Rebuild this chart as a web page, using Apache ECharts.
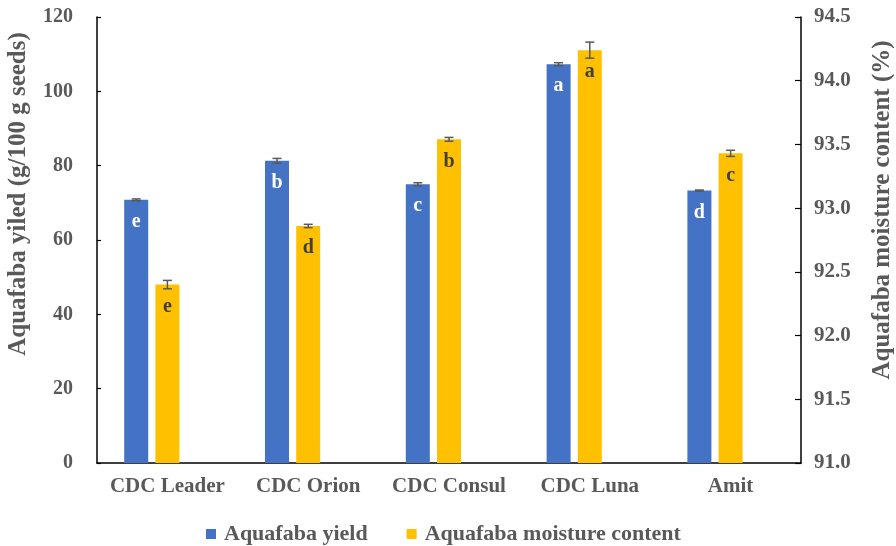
<!DOCTYPE html>
<html>
<head>
<meta charset="utf-8">
<script src="https://cdn.jsdelivr.net/npm/echarts@6/dist/echarts.min.js"></script>
<style>
  html, body { margin: 0; padding: 0; background: #fff; }
  #chart { width: 896px; height: 546px; }
</style>
</head>
<body>
<div id="chart"></div>
<script>
// Cultivars
var categories = ['CDC Leader', 'CDC Orion', 'CDC Consul', 'CDC Luna', 'Amit'];

// Aquafaba yield (g/100 g seeds) with standard deviation and letter groups
var yieldValues = [70.8, 81.3, 75.0, 107.3, 73.3];
var yieldErrors = [0.25, 0.65, 0.4, 0.4, 0.15];
var yieldLetters = ['e', 'b', 'c', 'a', 'd'];

// Aquafaba moisture content (%) with standard deviation and letter groups
var moistureValues = [92.40, 92.86, 93.54, 94.24, 93.43];
var moistureErrors = [0.033, 0.013, 0.015, 0.063, 0.024];
var moistureLetters = ['e', 'd', 'b', 'a', 'c'];

// Axis ticks
var leftTicks = { min: 0, max: 120, interval: 20 };
var rightTicks = { min: 91.0, max: 94.5, interval: 0.5 };

var FONT = '"Liberation Serif", "Times New Roman", serif';
var GRAY = '#595959';
var BLUE = '#4472C4';
var GOLD = '#FFC000';
var BAR_W = 24;
var BAR_GAP = 0.3; // fraction of bar width
var SLOT_COUNT = 3;

// horizontal offset of bar slot i from the category centre
function slotOffset(i) {
  var step = BAR_W * (1 + BAR_GAP);
  return (i - (SLOT_COUNT - 1) / 2) * step;
}

function errorBarSeries(values, errors, axisIndex, slot) {
  return {
    type: 'custom',
    yAxisIndex: axisIndex,
    z: 5,
    silent: true,
    data: values.map(function (v, i) { return [i, v - errors[i], v + errors[i]]; }),
    renderItem: function (params, api) {
      var idx = api.value(0);
      var lo = api.coord([idx, api.value(1)]);
      var hi = api.coord([idx, api.value(2)]);
      var x = lo[0] + slotOffset(slot);
      var cap = 4.5;
      var style = { stroke: GRAY, lineWidth: 1.5 };
      return {
        type: 'group',
        children: [
          { type: 'line', shape: { x1: x, y1: lo[1], x2: x, y2: hi[1] }, style: style },
          { type: 'line', shape: { x1: x - cap, y1: lo[1], x2: x + cap, y2: lo[1] }, style: style },
          { type: 'line', shape: { x1: x - cap, y1: hi[1], x2: x + cap, y2: hi[1] }, style: style }
        ]
      };
    }
  };
}

var chart = echarts.init(document.getElementById('chart'), null, { renderer: 'canvas' });

var option = {
  animation: false,
  textStyle: { fontFamily: FONT },
  grid: { left: 97, right: 95, top: 17, bottom: 83, containLabel: false },
  legend: {
    data: ['Aquafaba yield', 'Aquafaba moisture content'],
    left: 201,
    top: 518,
    icon: 'rect',
    itemWidth: 10,
    itemHeight: 10,
    itemGap: 39,
    textStyle: { fontFamily: FONT, fontSize: 22, fontWeight: 'bold', color: GRAY, padding: [0, 0, 0, 3] }
  },
  xAxis: {
    type: 'category',
    data: categories,
    axisLine: { lineStyle: { color: '#000', width: 1.5 } },
    axisTick: { show: false },
    axisLabel: {
      interval: 0, hideOverlap: false,
      fontFamily: FONT, fontSize: 21, fontWeight: 'bold', color: GRAY, margin: 13
    }
  },
  yAxis: [
    {
      type: 'value',
      min: leftTicks.min, max: leftTicks.max, interval: leftTicks.interval,
      axisLine: { show: true, lineStyle: { color: '#000', width: 1.5 } },
      axisTick: { show: true, inside: true, length: 4, lineStyle: { color: '#000', width: 1.2 } },
      splitLine: { show: false },
      axisLabel: { fontFamily: FONT, fontSize: 20, fontWeight: 'bold', color: GRAY, margin: 24 }
    },
    {
      type: 'value',
      position: 'right',
      min: rightTicks.min, max: rightTicks.max, interval: rightTicks.interval,
      axisLine: { show: true, lineStyle: { color: '#000', width: 1.5 } },
      axisTick: { show: true, inside: true, length: 6, lineStyle: { color: '#000', width: 1.2 } },
      splitLine: { show: false },
      axisLabel: {
        fontFamily: FONT, fontSize: 21, fontWeight: 'bold', color: GRAY, margin: 13,
        formatter: function (v) { return v.toFixed(1); }
      }
    }
  ],
  graphic: [
    {
      type: 'text',
      x: 19, y: 194,
      rotation: Math.PI / 2,
      style: {
        text: 'Aquafaba yiled (g/100 g seeds)',
        font: 'bold 25px ' + FONT,
        fill: GRAY,
        align: 'center',
        verticalAlign: 'middle'
      }
    },
    {
      type: 'text',
      x: 883, y: 210,
      rotation: Math.PI / 2,
      style: {
        text: 'Aquafaba moisture content (%)',
        font: 'bold 25px ' + FONT,
        fill: GRAY,
        align: 'center',
        verticalAlign: 'middle'
      }
    }
  ],
  series: [
    {
      name: 'Aquafaba yield',
      type: 'bar',
      yAxisIndex: 0,
      barWidth: BAR_W,
      barGap: (BAR_GAP * 100) + '%',
      itemStyle: { color: BLUE },
      data: yieldValues,
      label: {
        show: true,
        position: 'insideTop',
        distance: 12,
        fontFamily: FONT, fontSize: 20, fontWeight: 'bold', color: '#ffffff',
        formatter: function (p) { return yieldLetters[p.dataIndex]; }
      }
    },
    {
      name: 'Aquafaba moisture content',
      type: 'bar',
      yAxisIndex: 1,
      barWidth: BAR_W,
      barGap: (BAR_GAP * 100) + '%',
      clip: true,
      itemStyle: { color: GOLD },
      data: moistureValues,
      label: {
        show: true,
        position: 'insideTop',
        distance: 12,
        fontFamily: FONT, fontSize: 20, fontWeight: 'bold', color: '#404040',
        formatter: function (p) { return moistureLetters[p.dataIndex]; }
      }
    },
    {
      // empty slot that keeps each pair left of the category centre
      name: 'spacer',
      type: 'bar',
      yAxisIndex: 0,
      barWidth: BAR_W,
      barGap: (BAR_GAP * 100) + '%',
      data: categories.map(function () { return null; })
    },
    errorBarSeries(yieldValues, yieldErrors, 0, 0),
    errorBarSeries(moistureValues, moistureErrors, 1, 1)
  ]
};

chart.setOption(option);
</script>
</body>
</html>
